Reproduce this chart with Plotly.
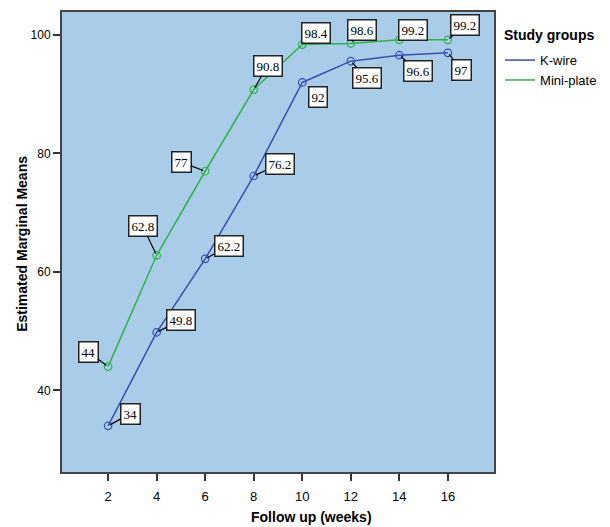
import plotly.graph_objects as go

weeks = [2, 4, 6, 8, 10, 12, 14, 16]
kwire = [34, 49.8, 62.2, 76.2, 92, 95.6, 96.6, 97]
miniplate = [44, 62.8, 77, 90.8, 98.4, 98.6, 99.2, 99.2]
kwire_labels = ["34", "49.8", "62.2", "76.2", "92", "95.6", "96.6", "97"]
mini_labels = ["44", "62.8", "77", "90.8", "98.4", "98.6", "99.2", "99.2"]

# label offsets (pixels) relative to points
kwire_off = [(22, -12), (24, -12), (24, -13), (26, -12), (16, 15), (16, 17), (19, 16), (14, 17)]
mini_off = [(-20, -15), (-14, -29), (-24, -9), (14, -24), (14, -12), (11, -13), (14, -10), (17, -15)]

BLUE = "#3a4db3"
GREEN = "#2fb24a"

fig = go.Figure()
for name, ys, col in [("K-wire", kwire, BLUE), ("Mini-plate", miniplate, GREEN)]:
    fig.add_trace(go.Scatter(x=weeks, y=ys, mode="lines+markers", name=name, showlegend=False,
                             line=dict(color=col, width=1.5),
                             marker=dict(symbol="circle-open", size=7.5, color=col, line=dict(width=1.2))))
    fig.add_trace(go.Scatter(x=[None], y=[None], mode="lines", name=name, showlegend=True,
                             line=dict(color=col, width=1.5)))

for xs, ys, labs, offs in [(weeks, kwire, kwire_labels, kwire_off), (weeks, miniplate, mini_labels, mini_off)]:
    for x, y, t, (ax, ay) in zip(xs, ys, labs, offs):
        fig.add_annotation(x=x, y=y, text=t, showarrow=True, arrowhead=0, arrowwidth=1.2,
                           arrowcolor="black", ax=ax, ay=ay, standoff=2,
                           font=dict(family="Liberation Serif", size=13, color="black"),
                           bgcolor="white", bordercolor="#222", borderwidth=1.5, borderpad=2)

# axis titles and legend title as paper annotations
fig.add_annotation(xref="paper", yref="paper", x=0.5787, y=-0.0978, xanchor="center", yanchor="middle",
                   text="<b>Follow up (weeks)</b>", showarrow=False, font=dict(size=14))
fig.add_annotation(xref="paper", yref="paper", x=-0.0926, y=0.496, xanchor="center", yanchor="middle",
                   text="<b>Estimated Marginal Means</b>", textangle=-90, showarrow=False, font=dict(size=14))
fig.add_annotation(xref="paper", yref="paper", x=1.0185, y=0.95, xanchor="left", yanchor="middle",
                   text="<b>Study groups</b>", showarrow=False, font=dict(size=14))

fig.update_layout(
    width=602, height=519,
    margin=dict(l=54, r=116, t=4, b=55, autoexpand=False),
    paper_bgcolor="white",
    plot_bgcolor="#a9cde9",
    font=dict(family="Liberation Sans", size=12, color="black"),
    showlegend=True,
    legend=dict(x=1.014, y=0.928, xanchor="left", yanchor="top",
                font=dict(size=13), bgcolor="rgba(0,0,0,0)", tracegroupgap=0),
    xaxis=dict(range=[0.1, 17.9], tickvals=weeks, ticks="outside", ticklen=7, tickcolor="#333",
               tickwidth=1.5, ticklabelstandoff=4,
               showgrid=False, zeroline=False, showline=True, linecolor="#444", linewidth=2, mirror=True,
               automargin=False, tickfont=dict(size=13)),
    yaxis=dict(range=[26.2, 103.9], tickvals=[40, 60, 80, 100], ticks="outside", ticklen=7, tickcolor="#333",
               tickwidth=1.5,
               showgrid=False, zeroline=False, showline=True, linecolor="#444", linewidth=2, mirror=True,
               automargin=False, tickfont=dict(size=12)),
)

fig.write_html("out.html")
